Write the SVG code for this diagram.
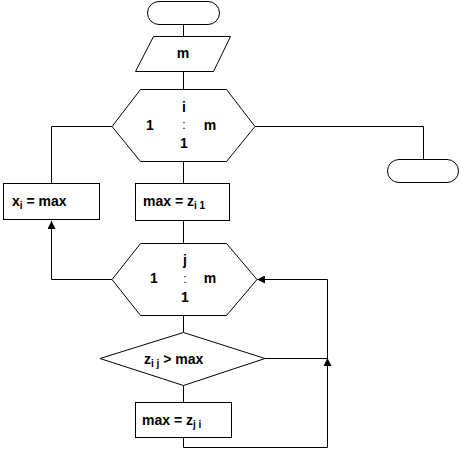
<svg xmlns="http://www.w3.org/2000/svg" width="460" height="451" viewBox="0 0 460 451">
<defs>
<style>
.s{fill:#fff;stroke:#000;stroke-width:1}
.c{fill:none;stroke:#000;stroke-width:1}
text{font-family:"Liberation Sans",Arial,sans-serif;font-weight:bold;font-size:14px;fill:#000}
.m{text-anchor:middle}
.sub{font-size:10px}
.col{font-size:12px;font-weight:normal}
</style>
<marker id="ah" viewBox="0 0 8 8" refX="8" refY="4" markerWidth="8" markerHeight="8" markerUnits="userSpaceOnUse" orient="auto">
<path d="M0,0 L8,4 L0,8 Z" fill="#000"/>
</marker>
</defs>
<g id="connectors">
<path class="c" d="M183.5,25 V36"/>
<path class="c" d="M183.5,72 V89"/>
<path class="c" d="M183.5,162 V183"/>
<path class="c" d="M183.5,221 V243"/>
<path class="c" d="M183.5,316 V332"/>
<path class="c" d="M183.5,386 V402"/>
<path class="c" d="M112,126.5 H51.5 V183"/>
<path class="c" d="M255,126.5 H423.5 V159"/>
<path class="c" d="M112,279.5 H51.5 V221" marker-end="url(#ah)"/>
<path class="c" d="M183.5,437 V447.5 H327.5 V279.5 H257" marker-end="url(#ah)"/>
<path class="c" d="M265,358.5 H327.5"/>
<path class="c" d="M327.5,370 V358" marker-end="url(#ah)"/>
</g>
<g id="start">
<rect class="s" x="147.5" y="1.5" width="72" height="23" rx="11.5"/>
</g>
<g id="input">
<polygon class="s" points="153.5,36.5 230.5,36.5 213.5,71.5 135.5,71.5"/>
<text class="m" x="183" y="58">m</text>
</g>
<g id="loop_i">
<polygon class="s" points="112,126.5 140.5,89.5 226.5,89.5 255,126.5 226.5,161.5 140.5,161.5"/>
<text class="m" x="150" y="130">1</text>
<text class="m" x="184" y="112">i</text>
<text class="m col" x="184" y="129">:</text>
<text class="m" x="184" y="148">1</text>
<text class="m" x="210" y="130">m</text>
</g>
<g id="end">
<rect class="s" x="387.5" y="159.5" width="71" height="23" rx="11.5"/>
</g>
<g id="assign_x">
<rect class="s" x="3.5" y="183.5" width="96" height="36"/>
<text x="12" y="206">x<tspan class="sub" dy="3">i</tspan><tspan dy="-3"> = max</tspan></text>
</g>
<g id="init_max">
<rect class="s" x="135.5" y="183.5" width="94" height="37"/>
<text x="143" y="206">max = z<tspan class="sub" dy="3">i 1</tspan></text>
</g>
<g id="loop_j">
<polygon class="s" points="112,279.5 140.5,243.5 226.5,243.5 257,279.5 226.5,315.5 140.5,315.5"/>
<text class="m" x="154" y="283">1</text>
<text class="m" x="185" y="265">j</text>
<text class="m col" x="185" y="283">:</text>
<text class="m" x="185" y="302">1</text>
<text class="m" x="210" y="283">m</text>
</g>
<g id="compare">
<polygon class="s" points="100,358.5 183.5,332.5 265,358.5 183.5,385.5"/>
<text x="144" y="364">z<tspan class="sub" dy="3">i j</tspan><tspan dy="-3">  &gt; max</tspan></text>
</g>
<g id="update_max">
<rect class="s" x="135.5" y="402.5" width="96" height="35"/>
<text x="142" y="425">max = z<tspan class="sub" dy="3">j i</tspan></text>
</g>
</svg>
